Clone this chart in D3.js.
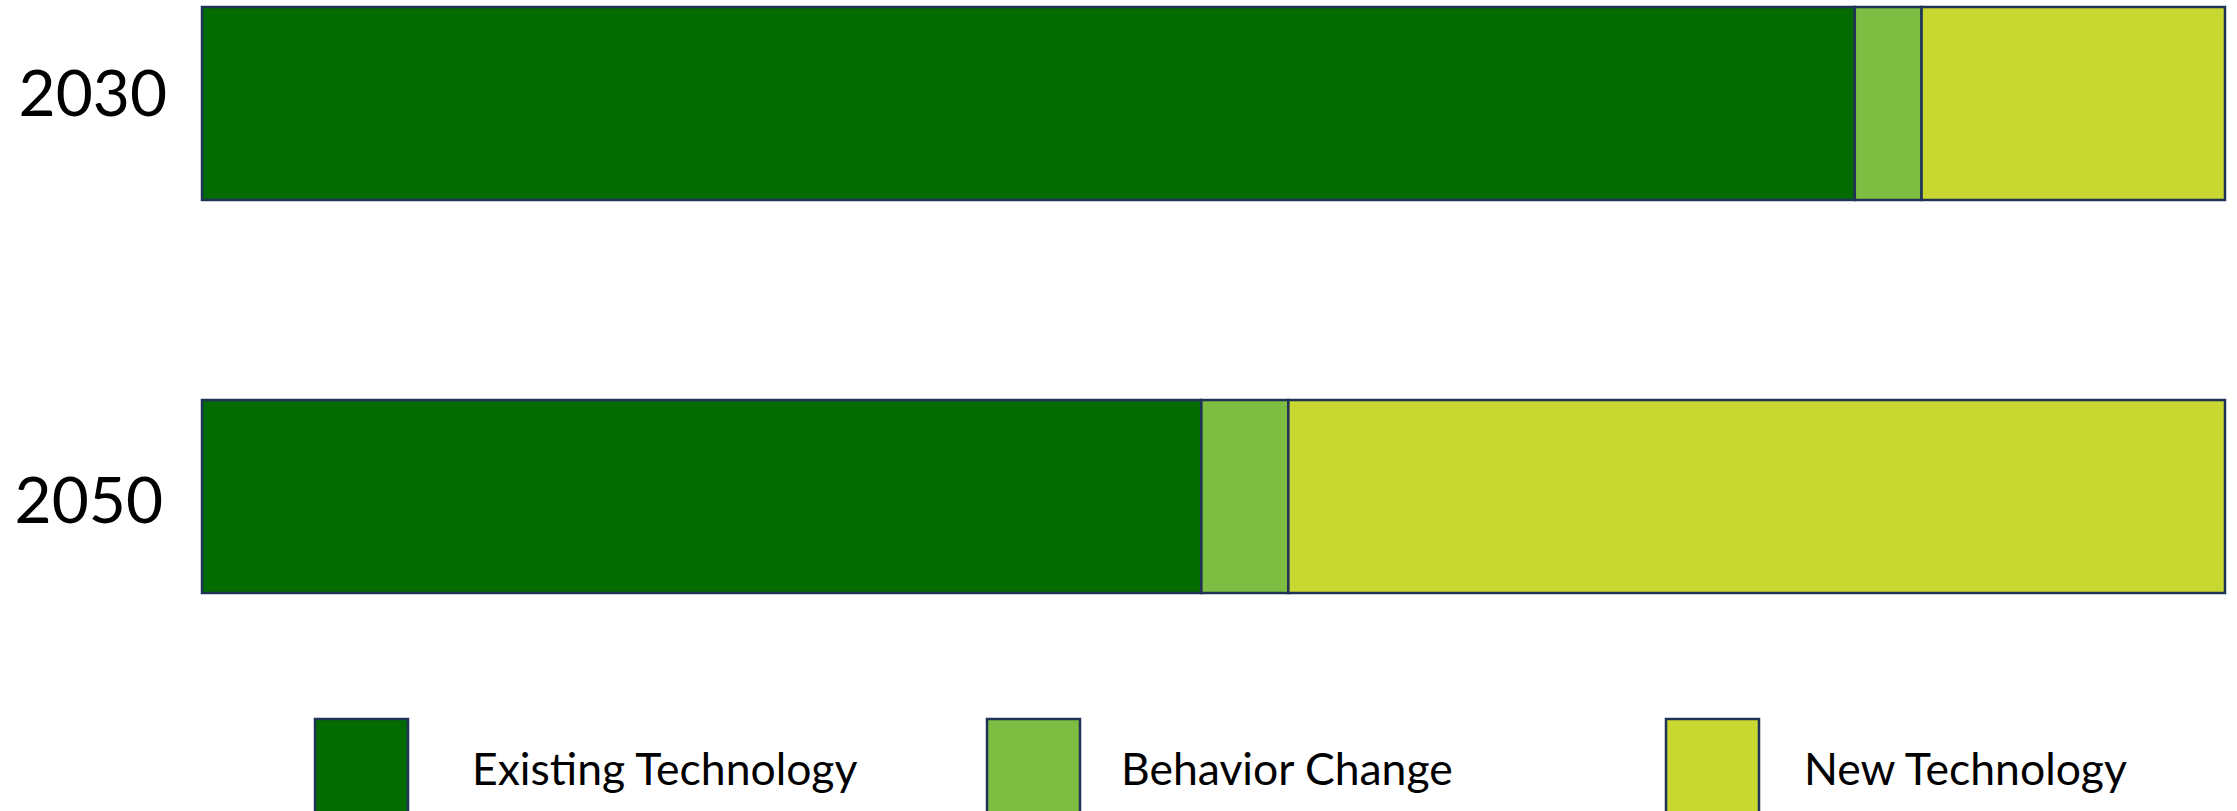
<!DOCTYPE html>
<html>
<head>
<meta charset="utf-8">
<script src="https://cdn.jsdelivr.net/npm/d3@7"></script>
<style>
  html, body { margin: 0; padding: 0; background: #ffffff; overflow: hidden; }
  svg { display: block; }
  text { font-family: Lato, "Open Sans", sans-serif; fill: #000; }
</style>
</head>
<body>
<svg id="chart" width="2237" height="811"></svg>
<script>
// ---- data ----
const years = ["2030", "2050"];
const seriesNames = ["Existing Technology", "Behavior Change", "New Technology"];
const existingTechnology = [81.7, 49.4];
const behaviorChange = [3.3, 4.3];
const newTechnology = [15.0, 46.3];
const seriesColors = ["#036b02", "#7dbd42", "#c8d831"];

// ---- build ----
const svg = d3.select("#chart");
const seriesValues = [existingTechnology, behaviorChange, newTechnology];
const table = years.map((y, i) => {
  const row = { year: y };
  seriesNames.forEach((s, j) => row[s] = seriesValues[j][i]);
  return row;
});
const stacked = d3.stack().keys(seriesNames)(table);

const x = d3.scaleLinear().domain([0, 100]).range([202, 2225]);
const y = d3.scaleBand().domain(years).range([7, 593]).paddingInner(0.509).paddingOuter(0);
const color = d3.scaleOrdinal().domain(seriesNames).range(seriesColors);

const stroke = "#1f3356";

svg.append("g").selectAll("g")
  .data(stacked)
  .join("g")
  .attr("fill", d => color(d.key))
  .selectAll("rect")
  .data(d => d)
  .join("rect")
  .attr("x", d => x(d[0]))
  .attr("y", d => y(d.data.year))
  .attr("width", d => x(d[1]) - x(d[0]))
  .attr("height", y.bandwidth())
  .attr("stroke", stroke)
  .attr("stroke-width", 2.5);

// year labels
const yearOffsets = { "2030": -12, "2050": 2 };
const yearRight = { "2030": 167, "2050": 163 };
svg.append("g").selectAll("text")
  .data(years)
  .join("text")
  .attr("x", d => yearRight[d])
  .attr("y", d => y(d) + y.bandwidth() / 2 + yearOffsets[d])
  .attr("text-anchor", "end")
  .attr("dominant-baseline", "central")
  .attr("font-size", 64)
  .text(d => d);

// legend
const legendSwatchX = [315, 987, 1666];
const legendTextX = [472, 1121, 1804];
const legend = svg.append("g").selectAll("g")
  .data(seriesNames)
  .join("g");
legend.append("rect")
  .attr("x", (d, i) => legendSwatchX[i])
  .attr("y", 719)
  .attr("width", 93)
  .attr("height", 110)
  .attr("fill", d => color(d))
  .attr("stroke", stroke)
  .attr("stroke-width", 2.5);
legend.append("text")
  .attr("x", (d, i) => legendTextX[i])
  .attr("y", 785)
  .attr("font-size", 44.5)
  .text(d => d);
</script>
</body>
</html>
